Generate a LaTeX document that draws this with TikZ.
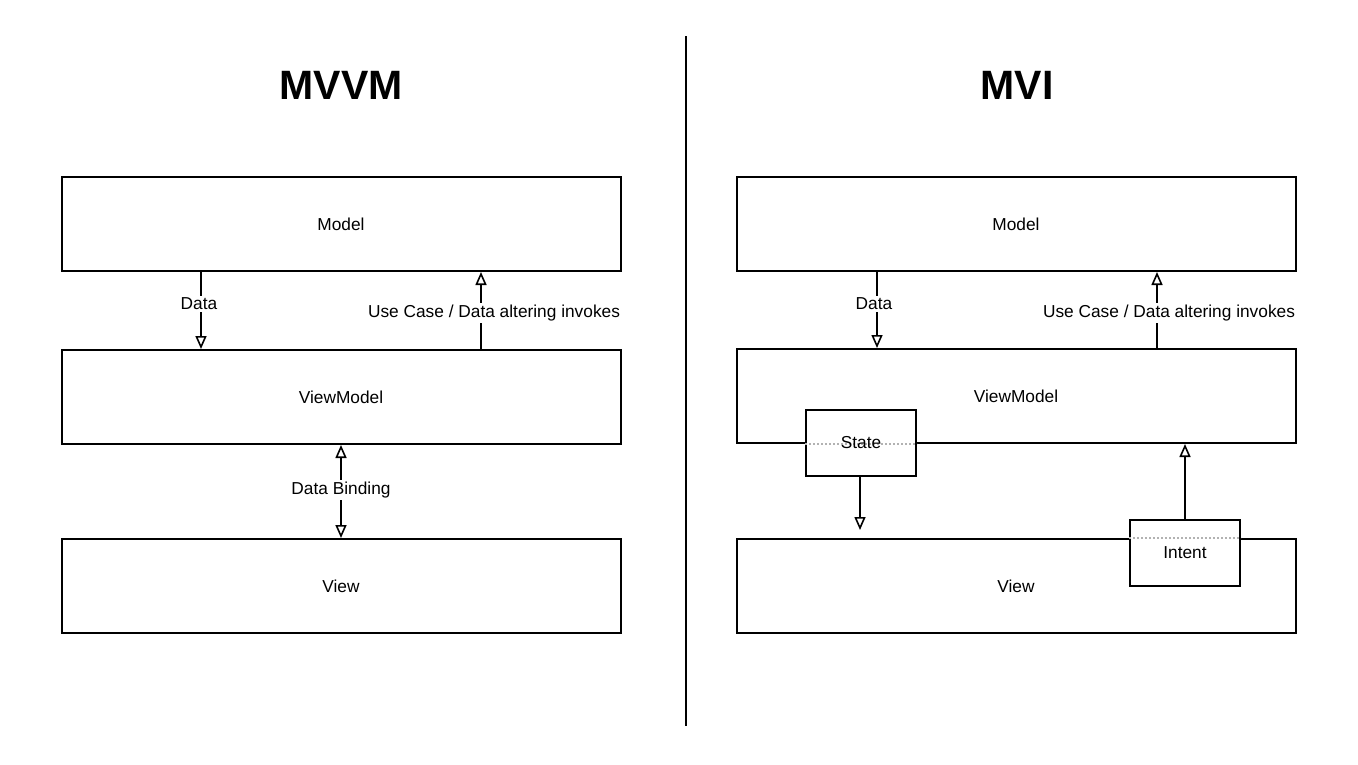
\documentclass[tikz,border=0pt]{standalone}
\usepackage{fontspec}
\setmainfont{Liberation Sans}
\usetikzlibrary{arrows.meta}
\begin{document}
\begin{tikzpicture}[x=1pt,y=-1pt,
  layer/.style={draw, line width=2pt, minimum width=559pt, minimum height=94pt, inner sep=0pt, font=\fontsize{17.3}{20}\selectfont},
  smallbox/.style={draw, fill=white, line width=2pt, minimum width=110pt, minimum height=66pt, inner sep=0pt},
  tip/.tip={Triangle[open, length=13pt, width=11pt, line width=1.6pt]},
  arr/.style={line width=2pt, -tip},
  darr/.style={line width=2pt, tip-tip},
  lab/.style={fill=white, inner sep=2pt, font=\fontsize{17.3}{20}\selectfont},
  title/.style={font=\fontsize{41}{48}\selectfont\bfseries},
  faint/.style={gray!60, line width=1.2pt, dash pattern=on 2pt off 2pt}]
\useasboundingbox (0,0) rectangle (1358,764);
\fill[white] (0,0) rectangle (1358,764);

% divider
\coordinate (dtop) at (686,36);
\coordinate (dbot) at (686,726);
\draw[line width=2pt] (dtop) -- (dbot);

% titles
\node[title] (t1) at (341,85) {MVVM};
\node[title] (t2) at (1017,85) {MVI};

% left panel
\node[layer] (lm) at (341,224) {Model};
\node[layer] (lvm) at (341,397) {ViewModel};
\node[layer] (lv) at (341,586) {View};

\coordinate (la) at (201,0);
\coordinate (lb) at (481,0);
\coordinate (lc) at (341,0);
\draw[arr] (la |- lm.south) -- (la |- lvm.north);
\node[lab] (ldata) at (199,304) {Data};
\draw[arr] (lb |- lvm.north) -- (lb |- lm.south);
\node[lab] (luse) at (494,313) {Use Case / Data altering invokes};
\draw[darr] (lc |- lvm.south) -- (lc |- lv.north);
\node[lab] (lbind) at (341,490) {Data Binding};

% right panel
\node[layer] (rm) at (1016,224) {Model};
\node[layer] (rvm) at (1016,396) {ViewModel};
\node[layer] (rv) at (1016,586) {View};

\coordinate (ra) at (877,0);
\coordinate (rb) at (1157,0);
\draw[arr] (ra |- rm.south) -- (ra |- rvm.north);
\node[lab] (rdata) at (874,304) {Data};
\draw[arr] (rb |- rvm.north) -- (rb |- rm.south);
\node[lab] (ruse) at (1169,313) {Use Case / Data altering invokes};

% state & intent
\node[smallbox] (st) at (861,443) {};
\draw[faint] (st.west |- rvm.south) -- (st.east |- rvm.south);
\node[font=\fontsize{17.3}{20}\selectfont] (stl) at (st.center) {State};
\node[smallbox] (in) at (1185,553) {};
\draw[faint] (in.west |- rv.north) -- (in.east |- rv.north);
\node[font=\fontsize{17.3}{20}\selectfont] (inl) at (1185,553) {Intent};

\coordinate (send) at (860,530);
\draw[arr] (st.south -| send) -- (send);
\draw[arr] (in.north) -- (in.north |- rvm.south);
\end{tikzpicture}
\end{document}
